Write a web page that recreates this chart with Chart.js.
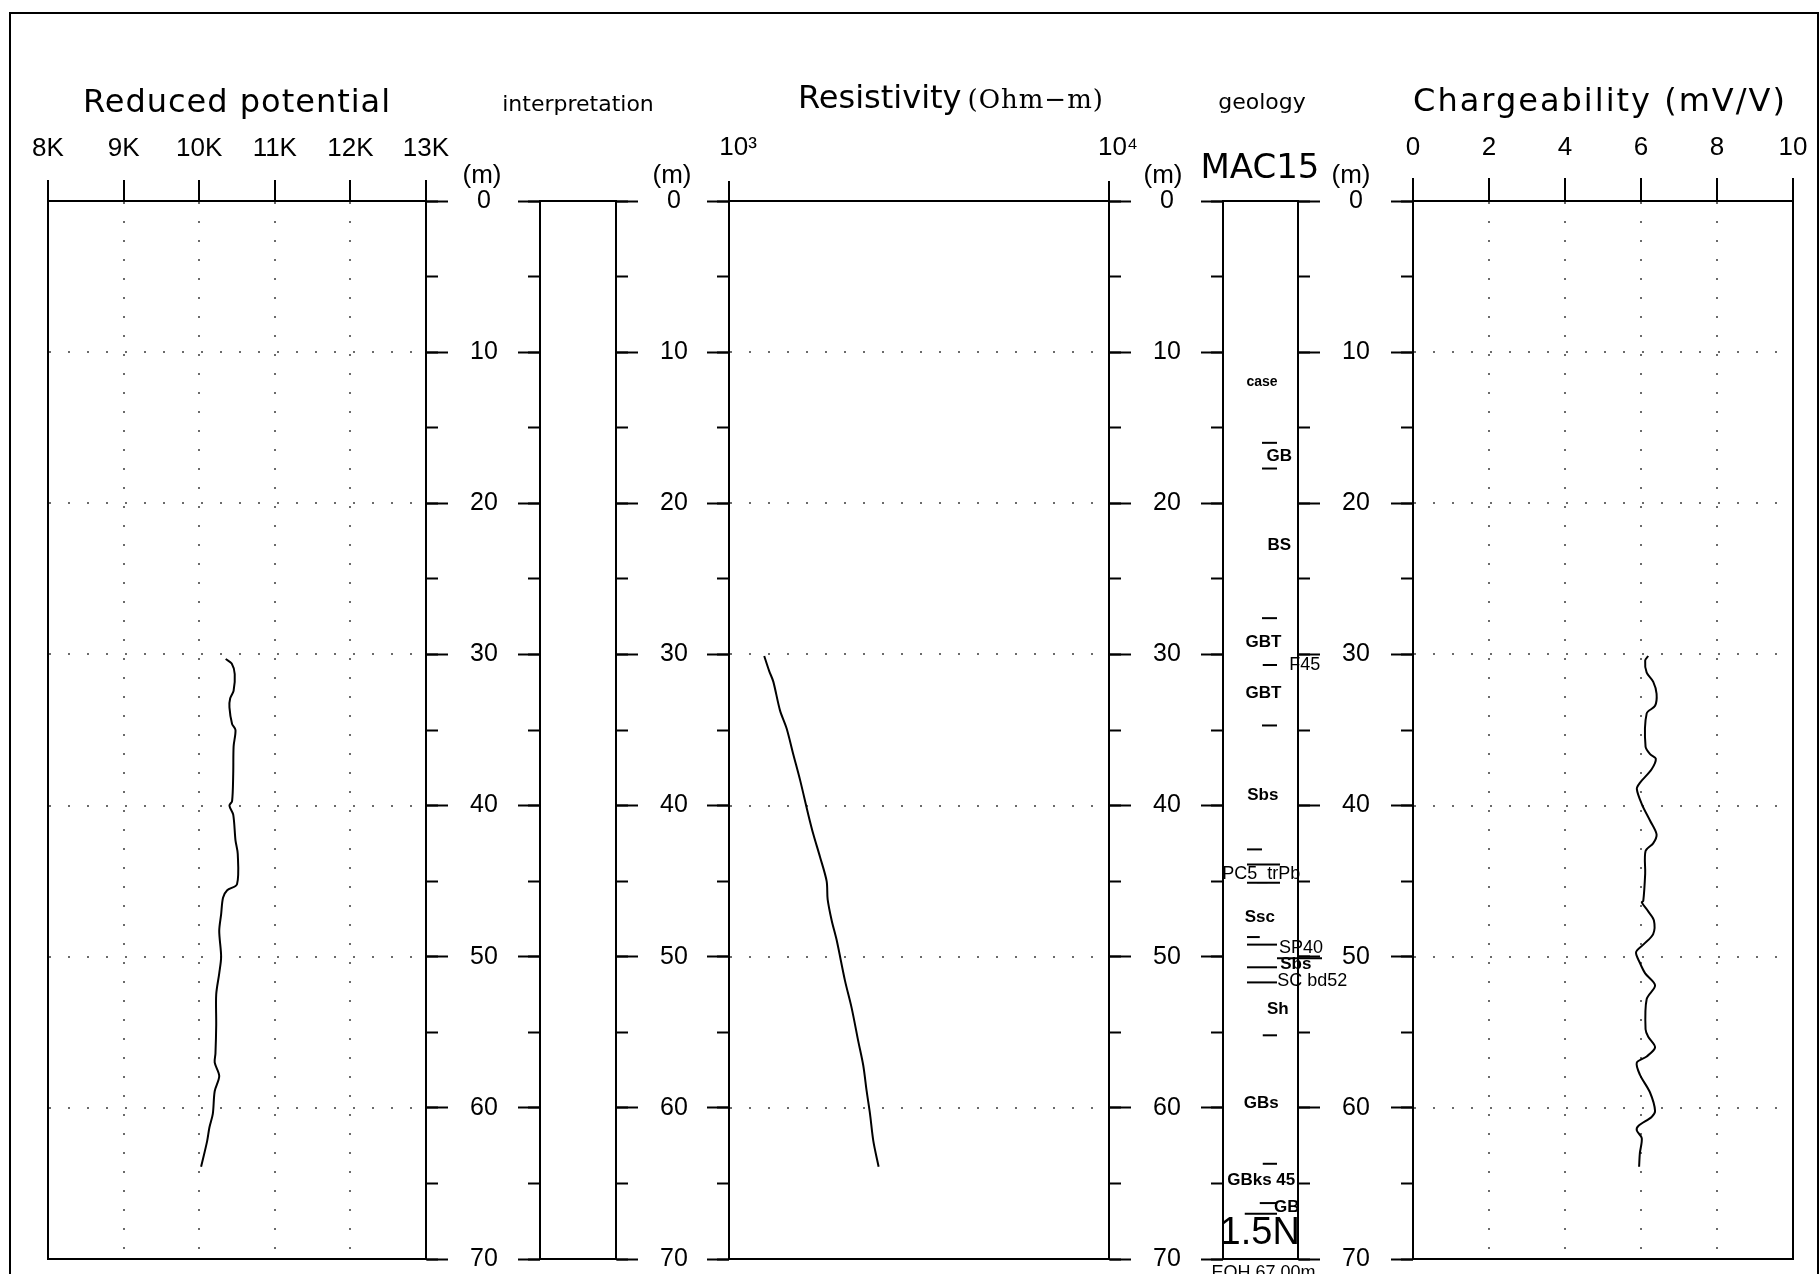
<!DOCTYPE html>
<html lang="en">
<head>
<meta charset="utf-8">
<title>MAC15 borehole log</title>
<script src="https://cdn.jsdelivr.net/npm/chart.js@4.4.1/dist/chart.umd.min.js"></script>
<style>
  html, body { margin: 0; padding: 0; background: #fff; }
  body { position: relative; width: 1820px; height: 1274px; overflow: hidden; }
  canvas { position: absolute; top: 0; }
  .t { position: absolute; white-space: nowrap; line-height: 1; color: #000; }
  #frame { position: absolute; left: 9px; top: 12px; width: 1806px; height: 1300px;
           border: 2px solid #000; border-bottom: none; }
</style>
</head>
<body>
<div id="frame"></div>
<canvas id="rp"></canvas>
<canvas id="interp"></canvas>
<canvas id="res"></canvas>
<canvas id="geo"></canvas>
<canvas id="chg"></canvas>
<script>
// depth axis (m), shared by every track
const depthMajor = [0, 10, 20, 30, 40, 50, 60, 70];
const depthMinor = [0, 5, 10, 15, 20, 25, 30, 35, 40, 45, 50, 55, 60, 65, 70];
const depthLabels = ['0', '10', '20', '30', '40', '50', '60', '70'];

// reduced potential
const rpTicks = [8000, 9000, 10000, 11000, 12000, 13000];
const rpTickLabels = ['8K', '9K', '10K', '11K', '12K', '13K'];
const rpDepth = [30.3, 30.6, 31.3, 32.4, 32.9, 33.5, 34.6, 35.0, 36.1, 37.9, 39.7, 40.0, 40.6, 42.3, 43.2, 45.2,
                 45.6, 46.1, 47.2, 48.3, 50.0, 51.1, 52.5, 54.5, 56.4, 57.0, 57.9, 58.9, 60.4, 61.3, 62.2, 63.9];
const rpValue = [10350, 10430, 10470, 10455, 10410, 10400, 10435, 10480, 10455, 10450, 10435, 10400, 10450, 10480, 10510, 10500,
                 10370, 10315, 10290, 10265, 10290, 10265, 10225, 10225, 10215, 10205, 10265, 10205, 10180, 10135, 10105, 10025];

// resistivity (ohm-m, log)
const resTicks = [1000, 10000];
const resTickLabels = ['10³', '10⁴'];
const resDepth = [30.1, 31.1, 31.8, 33.7, 34.9, 36.6, 38.3, 40.6, 41.9, 43.4, 45.0,
                  46.2, 47.6, 48.9, 51.6, 53.4, 55.6, 57.2, 58.9, 60.4, 62.2, 63.9];
const resValue = [1238, 1276, 1308, 1362, 1418, 1476, 1538, 1617, 1667, 1736, 1807,
                  1818, 1863, 1920, 2020, 2103, 2189, 2256, 2303, 2350, 2398, 2476];

// chargeability (mV/V)
const chgTicks = [0, 2, 4, 6, 8, 10];
const chgTickLabels = ['0', '2', '4', '6', '8', '10'];
const chgDepth = [30.1, 30.4, 31.2, 31.8, 32.6, 33.4, 33.9, 36.1, 36.6, 36.9, 37.6, 38.5, 38.9, 39.9, 41.0,
                  41.9, 42.5, 43.0, 44.5, 46.3, 46.4, 47.0, 47.6, 48.5, 49.2, 49.7, 50.4, 51.1, 51.9, 52.8,
                  54.8, 55.3, 56.0, 56.6, 57.0, 57.8, 59.0, 60.2, 60.6, 61.2, 61.5, 62.0, 63.0, 63.9];
const chgValue = [6.19, 6.11, 6.15, 6.32, 6.41, 6.37, 6.15, 6.12, 6.24, 6.39, 6.28, 5.97, 5.89, 6.02, 6.24,
                  6.41, 6.32, 6.12, 6.11, 6.06, 6.02, 6.19, 6.34, 6.32, 6.06, 5.87, 5.97, 6.11, 6.37, 6.15,
                  6.12, 6.19, 6.37, 6.15, 5.89, 5.97, 6.24, 6.37, 6.28, 5.93, 5.89, 6.02, 5.97, 5.95];

// geology log MAC15 (x in column widths, 0 = left edge, 1 = right edge)
const geoText = ['case', 'GB', 'BS', 'GBT', 'F45', 'GBT', 'Sbs', 'PC5_trPb', 'Ssc', 'SP40', 'Sbs',
                 'SC bd52', 'Sh', 'GBs', 'GBks 45', 'GB', '1.5N', 'EOH 67.00m'];
const geoDepth = [12.0, 16.9, 22.8, 29.2, 30.7, 32.6, 39.3, 44.5, 47.4, 49.4, 50.5,
                  51.6, 53.5, 59.7, 64.8, 66.6, 68.3, 70.9];
const geoPos = [0.52, 0.75, 0.75, 0.54, 1.09, 0.54, 0.53, 0.51, 0.49, 1.04, 0.97,
                1.19, 0.73, 0.51, 0.51, 0.85, 0.49, 0.54];
const geoStyle = ['s', 'b', 'b', 'b', 'r', 'b', 'b', 'r', 'b', 'r', 'b', 'r', 'b', 'b', 'b', 'b', 'L', 'r'];
const contactDepth = [16.0, 17.7, 27.6, 30.7, 34.7, 42.9, 43.9, 45.1, 48.7, 49.2, 50.1, 50.7, 51.7, 55.2, 63.7, 66.3, 67.0];
const contactFrom = [0.52, 0.52, 0.52, 0.53, 0.52, 0.32, 0.32, 0.32, 0.32, 0.32, 0.72, 0.32, 0.32, 0.53, 0.53, 0.49, 0.29];
const contactTo = [0.72, 0.72, 0.72, 0.72, 0.72, 0.52, 0.76, 0.76, 0.49, 0.72, 1.32, 0.72, 0.72, 0.72, 0.72, 0.72, 0.72];

// layout
const TOP = 201, BOTTOM = 1259, PAGE_H = 1274;
const SIDE = 30, LABEL_W = 90;
const INK = '#000', DOTS = '#6b6b6b';
const NUM_FONT = 'Liberation Sans';
const DOT_DASH = [2, 17];

const geoFonts = {
  s: 'bold 14px "Liberation Sans"',
  b: 'bold 17px "Liberation Sans"',
  r: '18px "Liberation Sans"',
  L: '38px "Liberation Sans"'
};

function topAxis(o) {
  const ax = {
    type: o.type || 'linear', position: 'top', min: o.min, max: o.max,
    afterFit: s => { s.height = TOP; s.paddingLeft = 0; s.paddingRight = 0; },
    ticks: { display: false },
    grid: { display: false },
    border: { display: true, color: INK, width: 2, dash: DOT_DASH }
  };
  if (o.ticks) {
    ax.afterBuildTicks = s => { s.ticks = o.ticks.map(v => ({ value: v })); };
    ax.ticks = {
      display: true, autoSkip: false, maxRotation: 0, minRotation: 0,
      padding: o.pad, labelOffset: o.offset || 0, color: INK,
      font: { family: NUM_FONT, size: 26 },
      callback: (v, i) => o.labels[i]
    };
    ax.grid = { display: true, drawOnChartArea: !!o.grid, tickLength: o.tl, tickWidth: 2,
                tickColor: INK, color: DOTS, lineWidth: 2 };
  }
  return ax;
}

function bottomAxis() {
  return {
    type: 'linear', position: 'bottom', min: 0, max: 1,
    afterFit: s => { s.height = PAGE_H - BOTTOM; s.paddingLeft = 0; s.paddingRight = 0; },
    ticks: { display: false },
    grid: { display: false },
    border: { display: true, color: INK, width: 2 }
  };
}

function depthAxis(grid) {
  return {
    type: 'linear', position: 'left', reverse: true, min: 0, max: 70,
    afterBuildTicks: s => { s.ticks = depthMajor.map(v => ({ value: v })); },
    afterFit: s => { s.width = 0; s.paddingTop = 0; s.paddingBottom = 0; },
    ticks: { display: false },
    grid: { display: grid, drawTicks: false, color: DOTS, lineWidth: 2 },
    border: { display: true, color: INK, width: 2, dash: DOT_DASH }
  };
}

function depthTicks(position, values, length, labelled) {
  return {
    type: 'linear', position, reverse: true, min: 0, max: 70,
    afterBuildTicks: s => { s.ticks = values.map(v => ({ value: v })); },
    afterFit: s => { s.width = labelled ? LABEL_W : 0; s.paddingTop = 0; s.paddingBottom = 0; },
    ticks: labelled ? {
      display: true, autoSkip: false, padding: 22, crossAlign: 'center', color: INK,
      font: { family: NUM_FONT, size: 25 },
      callback: (v, i) => depthLabels[i]
    } : { display: false },
    grid: { display: length > 0, drawOnChartArea: false, tickLength: length, tickWidth: 2, tickColor: INK, color: INK },
    border: { display: labelled || length === 0, color: INK, width: 2 }
  };
}

function curve(depth, value) {
  return {
    data: depth.map((d, i) => ({ x: value[i], y: d })),
    showLine: true, borderColor: INK, borderWidth: 2, pointRadius: 0, tension: 0.3,
    xAxisID: 'x', yAxisID: 'y'
  };
}

function makePanel(id, left, width, o) {
  const canvas = document.getElementById(id);
  canvas.width = SIDE + width + (o.rightLabels ? LABEL_W : SIDE);
  canvas.height = PAGE_H;
  canvas.style.left = (left - SIDE) + 'px';

  const scales = { x: o.x, x2: bottomAxis(), y: depthAxis(o.grid) };
  if (o.leftTicks) {
    scales.yl1 = depthTicks('left', depthMinor, 12, false);
    scales.yl2 = depthTicks('left', depthMajor, 22, false);
  }
  if (o.rightLabels) {
    scales.yr1 = depthTicks('right', depthMinor, 12, false);
    scales.yr2 = depthTicks('right', depthMajor, 22, true);
  } else {
    scales.yr = depthTicks('right', depthMajor, 0, false);
  }

  return new Chart(canvas, {
    type: 'scatter',
    data: { datasets: o.datasets || [] },
    options: {
      responsive: false, animation: false, events: [], devicePixelRatio: 1,
      layout: { padding: { left: SIDE, right: o.rightLabels ? 0 : SIDE, top: 0, bottom: 0 }, autoPadding: false },
      plugins: { legend: { display: false }, tooltip: { enabled: false } },
      scales
    },
    plugins: o.plugins || []
  });
}

const geoLabels = {
  id: 'geoLabels',
  afterDatasetsDraw(chart) {
    const { ctx, scales: { x, y } } = chart;
    ctx.save();
    ctx.fillStyle = INK;
    ctx.textAlign = 'center';
    ctx.textBaseline = 'middle';
    geoText.forEach((t, i) => {
      ctx.font = geoFonts[geoStyle[i]];
      ctx.fillText(t, x.getPixelForValue(geoPos[i]), y.getPixelForValue(geoDepth[i]));
    });
    ctx.restore();
  }
};

const contactSets = contactDepth.map((d, i) => ({
  data: [{ x: contactFrom[i], y: d }, { x: contactTo[i], y: d }],
  showLine: true, borderColor: INK, borderWidth: 2, pointRadius: 0, clip: false,
  xAxisID: 'x', yAxisID: 'y'
}));

makePanel('rp', 48, 378, {
  x: topAxis({ min: 8000, max: 13000, ticks: rpTicks, labels: rpTickLabels, tl: 21, pad: 16, grid: true }),
  grid: true, leftTicks: false, rightLabels: true,
  datasets: [curve(rpDepth, rpValue)]
});

makePanel('interp', 540, 76, {
  x: topAxis({ min: 0, max: 1 }),
  grid: false, leftTicks: true, rightLabels: true
});

makePanel('res', 729, 380, {
  x: topAxis({ type: 'logarithmic', min: 1000, max: 10000, ticks: resTicks, labels: resTickLabels,
               tl: 20, pad: 18, offset: 9, grid: false }),
  grid: true, leftTicks: true, rightLabels: true,
  datasets: [curve(resDepth, resValue)]
});

makePanel('geo', 1223, 75, {
  x: topAxis({ min: 0, max: 1 }),
  grid: false, leftTicks: true, rightLabels: true,
  datasets: contactSets, plugins: [geoLabels]
});

makePanel('chg', 1413, 380, {
  x: topAxis({ min: 0, max: 10, ticks: chgTicks, labels: chgTickLabels, tl: 23, pad: 15, grid: true }),
  grid: true, leftTicks: true, rightLabels: false,
  datasets: [curve(chgDepth, chgValue)]
});

// headers
function addText(parts, cx, baseline, size, family, extra) {
  const d = document.createElement('div');
  d.className = 't';
  d.style.fontSize = size + 'px';
  d.style.fontFamily = family;
  d.style.left = cx + 'px';
  d.style.top = (baseline - 0.846 * size) + 'px';
  d.style.transform = 'translateX(-50%)';
  Object.assign(d.style, extra || {});
  parts.forEach(p => {
    if (typeof p === 'string') d.appendChild(document.createTextNode(p));
    else d.appendChild(p);
  });
  document.body.appendChild(d);
}

function span(text, css) {
  const s = document.createElement('span');
  s.textContent = text;
  Object.assign(s.style, css);
  return s;
}

addText(['Reduced potential'], 237, 112, 32, '"DejaVu Sans"', { letterSpacing: '1px' });
addText(['interpretation'], 578, 112, 22, '"DejaVu Sans"');
addText(['Resistivity', span('(Ohm\u2212m)', { fontFamily: '"DejaVu Serif"', fontSize: '26px', marginLeft: '6px', letterSpacing: '1px' })],
        951, 108, 32, '"DejaVu Sans"');
addText(['geology'], 1262, 110, 22, '"DejaVu Sans"');
addText(['Chargeability (mV/V)'], 1600, 111, 32, '"DejaVu Sans"', { letterSpacing: '2px' });
addText(['MAC15'], 1260, 178, 34, '"DejaVu Sans"');
[482, 672, 1163, 1351].forEach(cx => addText(['(m)'], cx, 183, 26, '"Liberation Sans"'));
</script>
</body>
</html>
